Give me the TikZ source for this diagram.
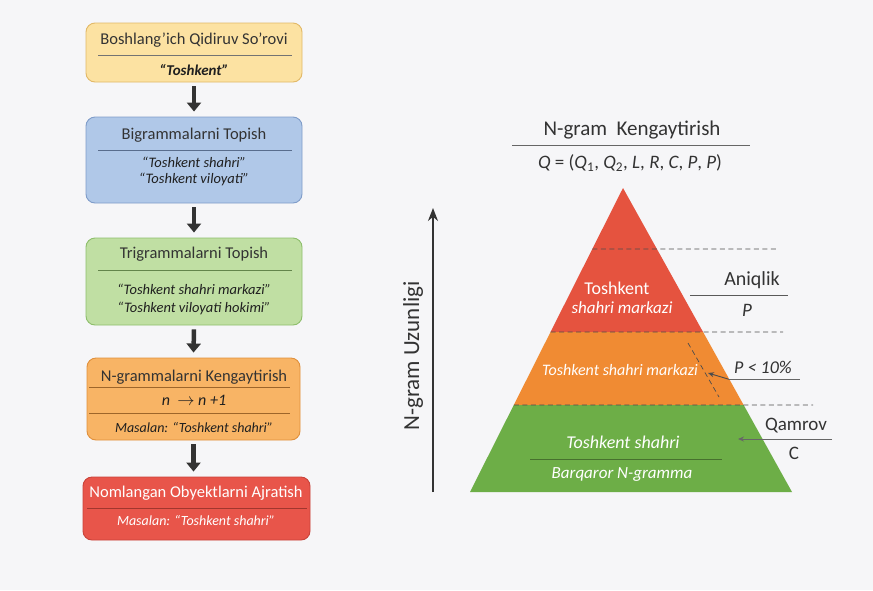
\documentclass[tikz,border=0pt]{standalone}
\usepackage{fontspec}
\setmainfont{Carlito}
\usetikzlibrary{arrows.meta,calc}

\definecolor{bgcol}{HTML}{F6F6F8}
\definecolor{textcol}{HTML}{333333}
\definecolor{arrowcol}{HTML}{333333}
\definecolor{yelfill}{HTML}{FCE2A2}
\definecolor{yeldraw}{HTML}{E2B867}
\definecolor{bluefill}{HTML}{B0C8E8}
\definecolor{bluedraw}{HTML}{7F9CC9}
\definecolor{grnfill}{HTML}{C0DFA3}
\definecolor{grndraw}{HTML}{8DBE6B}
\definecolor{orgfill}{HTML}{F8B465}
\definecolor{orgdraw}{HTML}{E0903C}
\definecolor{redfill}{HTML}{E8554A}
\definecolor{reddraw}{HTML}{C9433A}
\definecolor{pyrred}{HTML}{E5533F}
\definecolor{pyrorg}{HTML}{F08B33}
\definecolor{pyrgrn}{HTML}{6DAE47}

\tikzset{
  stagebox/.style={rounded corners=9pt, line width=0.9pt, inner sep=0pt},
  flowarrow/.style={-{Triangle[length=9pt,width=14pt]}, line width=4.5pt, draw=arrowcol},
  titletext/.style={font=\fontsize{16.5}{19}\selectfont, text=textcol},
  itemtext/.style={font=\fontsize{14.5}{17}\selectfont\itshape, text=black!88},
  sepline/.style={line width=0.8pt},
  levelsep/.style={dash pattern=on 5pt off 3.5pt, line width=0.8pt, draw=black!70},
  pyrtext/.style={font=\fontsize{18}{21}\selectfont, text=white},
  sidetext/.style={font=\fontsize{19}{22}\selectfont, text=textcol},
  labelarrow/.style={-{Stealth[length=6pt,width=5pt]}, line width=0.9pt, draw=black!70},
}

\begin{document}
\begin{tikzpicture}[x=1pt, y=-1pt]
  % background
  \fill[bgcol] (0,0) rectangle (873,590);
  \useasboundingbox (0,0) rectangle (873,590);

  % ---- flow of stages ----
  \node[stagebox, fill=yelfill, draw=yeldraw, minimum width=216pt, minimum height=59pt] (query) at (194,52.5) {};
  \node[stagebox, fill=bluefill, draw=bluedraw, minimum width=216pt, minimum height=86pt] (bigram) at (194,160) {};
  \node[stagebox, fill=grnfill, draw=grndraw, minimum width=216pt, minimum height=87pt] (trigram) at (194,281.5) {};
  \node[stagebox, fill=orgfill, draw=orgdraw, minimum width=213pt, minimum height=82pt] (expand) at (193.5,399) {};
  \node[stagebox, fill=redfill, draw=reddraw, minimum width=227pt, minimum height=63pt] (ner) at (196.5,508.5) {};

  % texts of the stages
  \node[titletext] (queryT) at (194,40) {Boshlang'ich Qidiruv So'rovi};
  \draw[sepline, draw=black!55] (98,55) -- (292,55);
  \node[itemtext, font=\fontsize{15}{17}\selectfont\itshape\bfseries] (queryA) at (194,70) {“Toshkent”};

  \node[titletext] (bigramT) at (194,135) {Bigrammalarni Topish};
  \draw[sepline, draw=bluedraw!70!black] (98,150) -- (292,150);
  \node[itemtext] (bigramA) at (194,162) {“Toshkent shahri”};
  \node[itemtext] (bigramB) at (194,179) {“Toshkent viloyati”};

  \node[titletext] (trigramT) at (194,254) {Trigrammalarni Topish};
  \draw[sepline, draw=grndraw!70!black] (98,270) -- (292,270);
  \node[itemtext] (trigramA) at (194,289) {“Toshkent shahri markazi”};
  \node[itemtext] (trigramB) at (194,308) {“Toshkent viloyati hokimi”};

  \node[titletext] (expandT) at (194,377) {N-grammalarni Kengaytirish};
  \draw[sepline, draw=orgdraw!70!black] (89,387) -- (290,387);
  \node[itemtext, font=\fontsize{16}{18}\selectfont\itshape] (expandA) at (194,400) {n\ \ \upshape$\to$ \itshape n +1};
  \draw[sepline, draw=orgdraw!70!black] (89,413) -- (290,413);
  \node[itemtext, font=\fontsize{14}{16}\selectfont\itshape] (expandB) at (194,428) {Masalan: “Toshkent shahri”};

  \node[titletext, text=white] (nerT) at (196,493) {Nomlangan Obyektlarni Ajratish};
  \draw[sepline, draw=reddraw!80!black] (87,508) -- (307,508);
  \node[itemtext, text=white, font=\fontsize{14}{16}\selectfont\itshape] (nerA) at (196,521) {Masalan: “Toshkent shahri”};

  % arrows between stages
  \draw[flowarrow] ($(query.south)+(0,4)$) -- ($(bigram.north)+(0,-5)$);
  \draw[flowarrow] ($(bigram.south)+(0,4)$) -- ($(trigram.north)+(0,-5)$);
  \draw[flowarrow] ($(trigram.south)+(0,4)$) -- ($(expand.north)+(0,-5)$);
  \draw[flowarrow] ($(expand.south)+(0,4)$) -- ($(expand.south |- ner.north)+(0,-5)$);

  % ---- n-gram pyramid ----
  \node[font=\fontsize{21}{24}\selectfont, text=textcol] (pyrtitle) at (632,130) {N-gram\ \ Kengaytirish};
  \draw[line width=1pt, draw=black!60] (512,145) -- (750,145);
  \node[font=\fontsize{19}{22}\selectfont, text=textcol] (formula) at (630,163)
    {\textit{Q} = (\textit{Q}\textsubscript{1}, \textit{Q}\textsubscript{2}, \textit{L}, \textit{R}, \textit{C}, \textit{P}, \textit{P})};

  \coordinate (apex) at (623,188);
  \coordinate (baseL) at (470,492);
  \coordinate (baseR) at (792,492);
  \coordinate (redL) at ($(apex)!0.4737!(baseL)$);
  \coordinate (redR) at ($(apex)!0.4737!(baseR)$);
  \coordinate (orgL) at ($(apex)!0.7138!(baseL)$);
  \coordinate (orgR) at ($(apex)!0.7138!(baseR)$);
  \coordinate (topL) at ($(apex)!0.2007!(baseL)$);

  \fill[pyrred] (apex) -- (redR) -- (redL) -- cycle;
  \fill[pyrorg] (redL) -- (redR) -- (orgR) -- (orgL) -- cycle;
  \fill[pyrgrn] (orgL) -- (orgR) -- (baseR) -- (baseL) -- cycle;

  % level borders
  \draw[levelsep] (topL) -- (778,249);
  \draw[levelsep] (redL) -- (783,332);
  \draw[levelsep] (orgL) -- (813,405);

  % texts in the levels
  \node[pyrtext] (redA) at (617,288) {Toshkent};
  \node[pyrtext, font=\fontsize{17}{20}\selectfont\itshape] (redB) at (622,308) {shahri markazi};
  \node[pyrtext, font=\fontsize{16}{19}\selectfont\itshape] (orgA) at (620,370) {Toshkent shahri markazi};
  \node[pyrtext, font=\fontsize{18}{21}\selectfont\itshape] (grnA) at (623,442) {Toshkent shahri};
  \draw[line width=0.9pt, draw=pyrgrn!65!black] (530,459) -- (722,459);
  \node[pyrtext, font=\fontsize{17}{20}\selectfont\itshape] (grnB) at (622,474) {Barqaror N-gramma};

  % precision side
  \node[sidetext, font=\fontsize{20}{23}\selectfont] (prec) at (752,280) {Aniqlik};
  \draw[line width=0.9pt, draw=black!65] (690,295) -- (788,295);
  \node[sidetext, font=\fontsize{19}{22}\selectfont\itshape] (precP) at (747,310) {P};

  % threshold
  \draw[levelsep, line width=0.7pt] (688,343) -- (719,397);
  \node[sidetext, font=\fontsize{18}{21}\selectfont\itshape] (thresh) at (763,367) {P < 10\%};
  \coordinate (threshEnd) at (800,379);
  \coordinate (threshStart) at (728,379);
  \coordinate (threshTip) at (708,373);
  \draw[line width=0.9pt, draw=black!60] (threshStart) -- (threshEnd);
  \draw[labelarrow] (threshStart) -- (threshTip);

  % coverage side
  \node[sidetext] (cover) at (796,426) {Qamrov};
  \coordinate (coverEnd) at (832,439);
  \coordinate (coverTip) at (738,439);
  \draw[labelarrow, draw=black!60] (coverEnd) -- (coverTip);
  \node[sidetext] (coverC) at (794,453) {C};

  % length axis
  \coordinate (lenBot) at (433,492);
  \coordinate (lenTop) at (433,208);
  \draw[-{Stealth[length=13pt,width=10pt]}, line width=1.6pt, draw=arrowcol] (lenBot) -- (lenTop);
  \node[rotate=90, font=\fontsize{23}{26}\selectfont, text=textcol] (lenLabel) at (413,356) {N-gram Uzunligi};
\end{tikzpicture}
\end{document}
